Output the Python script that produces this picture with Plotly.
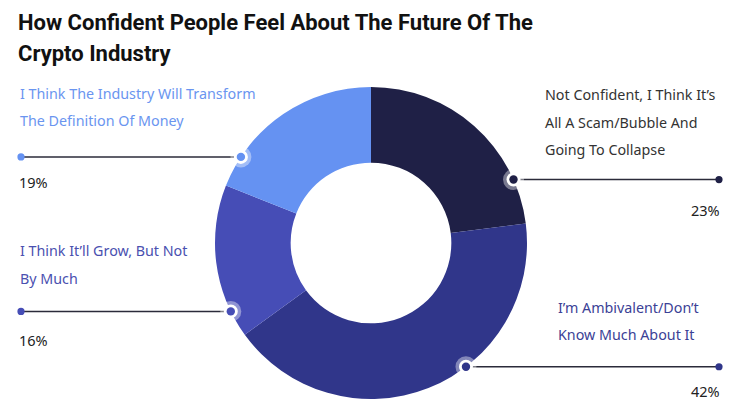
import math

import plotly.graph_objects as go

# ---------------------------------------------------------------------------
# Data
# ---------------------------------------------------------------------------

categories = [
    "Not Confident, I Think It’s All A Scam/Bubble And Going To Collapse",
    "I’m Ambivalent/Don’t Know Much About It",
    "I Think It’ll Grow, But Not By Much",
    "I Think The Industry Will Transform The Definition Of Money",
]
label_lines = [
    ["Not Confident, I Think It’s", "All A Scam/Bubble And", "Going To Collapse"],
    ["I’m Ambivalent/Don’t", "Know Much About It"],
    ["I Think It’ll Grow, But Not", "By Much"],
    ["I Think The Industry Will Transform", "The Definition Of Money"],
]
values = [23, 42, 16, 19]
pct_labels = ["23%", "42%", "16%", "19%"]

title_lines = ["How Confident People Feel About The Future Of The", "Crypto Industry"]

# ---------------------------------------------------------------------------
# Style / layout
# ---------------------------------------------------------------------------

W, H = 754, 412
CX, CY, R = 371, 243, 156          # donut centre + outer radius (px)
HOLE = 0.515

slice_colors = ["#1f2046", "#30368a", "#464db6", "#6592f2"]
text_colors = ["#333333", "#3b4196", "#4a50b0", "#6a95f0"]
anchor_deg = [66, 142.5, 244, 303.5]    # where the leader line leaves the ring
side = ["right", "right", "left", "left"]
label_x = [543, 556, 18, 18]
label_y0 = [94.5, 307, 250.5, 93]
LINE_GAP = 27.5
END_X = {"left": 21, "right": 719}
PCT_X = {"left": 17, "right": 722}
PCT_DY = [30.5, 24.5, 28.5, 25]

FONT = "Noto Sans"


def circle(x, y, rad, color):
    return dict(type="circle", xref="x", yref="y", layer="above",
                x0=x - rad, x1=x + rad, y0=y - rad, y1=y + rad,
                fillcolor=color, line=dict(width=0))


fig = go.Figure()

# donut
fig.add_trace(go.Pie(
    labels=categories,
    values=values,
    sort=False,
    direction="clockwise",
    rotation=0,
    hole=HOLE,
    marker=dict(colors=slice_colors, line=dict(width=0)),
    textinfo="none",
    hoverinfo="label+percent",
    showlegend=False,
    domain=dict(
        x=[(CX - R) / W, (CX + R) / W],
        y=[1 - (CY + R) / H, 1 - (CY - R) / H],
    ),
))

annotations = []
shapes = []
for i, val in enumerate(values):
    a = math.radians(anchor_deg[i])
    mx = CX + R * math.sin(a)
    my = CY - R * math.cos(a)
    ex = END_X[side[i]]

    # leader line + end dot
    shapes.append(dict(type="line", xref="x", yref="y", layer="above",
                       x0=mx, x1=ex, y0=my, y1=my,
                       line=dict(color="#2b2b3a", width=1.5)))
    shapes.append(circle(ex, my, 3.6, slice_colors[i]))
    # ring marker on the donut edge
    shapes.append(circle(mx, my, 10.5, "rgba(255,255,255,0.4)"))
    shapes.append(circle(mx, my, 7, "#ffffff"))
    shapes.append(circle(mx, my, 4.2, slice_colors[i]))

    # category text, one annotation per line for the wide line spacing
    for j, line in enumerate(label_lines[i]):
        annotations.append(dict(
            x=label_x[i], y=label_y0[i] + j * LINE_GAP, xref="x", yref="y",
            text=line, showarrow=False, xanchor="left", yanchor="middle",
            font=dict(family=FONT, size=14.3, color=text_colors[i]),
        ))
    # percentage
    annotations.append(dict(
        x=PCT_X[side[i]], y=my + PCT_DY[i], xref="x", yref="y",
        text=pct_labels[i], showarrow=False,
        xanchor="left" if side[i] == "left" else "right", yanchor="middle",
        font=dict(family=FONT, size=14.5, color="#222222"),
    ))

# title
for j, line in enumerate(title_lines):
    annotations.append(dict(
        x=16, y=22.5 + j * 31, xref="x", yref="y", text=line, showarrow=False,
        xanchor="left", yanchor="middle",
        font=dict(family="Roboto", size=22, color="#111111", weight="bold"),
    ))

fig.update_layout(
    width=W,
    height=H,
    margin=dict(l=0, r=0, t=0, b=0),
    paper_bgcolor="#ffffff",
    plot_bgcolor="rgba(0,0,0,0)",
    xaxis=dict(range=[0, W], visible=False, fixedrange=True),
    yaxis=dict(range=[H, 0], visible=False, fixedrange=True),
    annotations=annotations,
    shapes=shapes,
)

fig.write_html("out.html", config={"displayModeBar": False},
               post_script="document.body.style.margin='0';")
